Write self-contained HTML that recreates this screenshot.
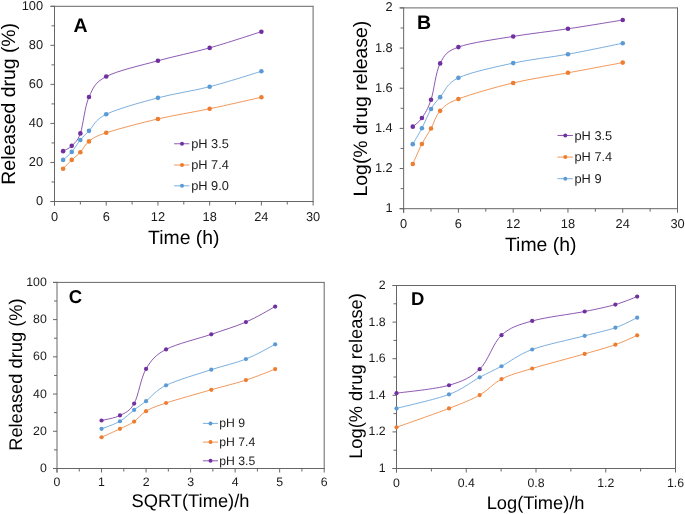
<!DOCTYPE html>
<html><head><meta charset="utf-8"><style>
html,body{margin:0;padding:0;background:#fff;}
body{width:685px;height:514px;overflow:hidden;}
svg{display:block;font-family:"Liberation Sans", sans-serif;will-change:transform;text-rendering:geometricPrecision;}
</style></head><body>
<svg width="685" height="514" viewBox="0 0 685 514">
<rect width="685" height="514" fill="#fff"/>
<line x1="50.50" y1="6.30" x2="313.60" y2="6.30" stroke="#666666" stroke-width="1"/>
<line x1="313.10" y1="6.30" x2="313.10" y2="201.50" stroke="#666666" stroke-width="1"/>
<line x1="50.50" y1="201.50" x2="313.60" y2="201.50" stroke="#666666" stroke-width="1"/>
<line x1="54.50" y1="5.80" x2="54.50" y2="205.50" stroke="#666666" stroke-width="1"/>
<line x1="50.50" y1="201.50" x2="54.50" y2="201.50" stroke="#666666" stroke-width="1"/>
<text x="43.10" y="205.00" font-size="12.8" text-anchor="end" font-weight="normal" fill="#1a1a1a">0</text>
<line x1="50.50" y1="162.46" x2="54.50" y2="162.46" stroke="#666666" stroke-width="1"/>
<text x="43.10" y="165.96" font-size="12.8" text-anchor="end" font-weight="normal" fill="#1a1a1a">20</text>
<line x1="50.50" y1="123.42" x2="54.50" y2="123.42" stroke="#666666" stroke-width="1"/>
<text x="43.10" y="126.92" font-size="12.8" text-anchor="end" font-weight="normal" fill="#1a1a1a">40</text>
<line x1="50.50" y1="84.38" x2="54.50" y2="84.38" stroke="#666666" stroke-width="1"/>
<text x="43.10" y="87.88" font-size="12.8" text-anchor="end" font-weight="normal" fill="#1a1a1a">60</text>
<line x1="50.50" y1="45.34" x2="54.50" y2="45.34" stroke="#666666" stroke-width="1"/>
<text x="43.10" y="48.84" font-size="12.8" text-anchor="end" font-weight="normal" fill="#1a1a1a">80</text>
<line x1="50.50" y1="6.30" x2="54.50" y2="6.30" stroke="#666666" stroke-width="1"/>
<text x="43.10" y="9.80" font-size="12.8" text-anchor="end" font-weight="normal" fill="#1a1a1a">100</text>
<line x1="51.50" y1="181.98" x2="54.50" y2="181.98" stroke="#666666" stroke-width="1"/>
<line x1="51.50" y1="142.94" x2="54.50" y2="142.94" stroke="#666666" stroke-width="1"/>
<line x1="51.50" y1="103.90" x2="54.50" y2="103.90" stroke="#666666" stroke-width="1"/>
<line x1="51.50" y1="64.86" x2="54.50" y2="64.86" stroke="#666666" stroke-width="1"/>
<line x1="51.50" y1="25.82" x2="54.50" y2="25.82" stroke="#666666" stroke-width="1"/>
<line x1="54.50" y1="201.50" x2="54.50" y2="205.50" stroke="#666666" stroke-width="1"/>
<text x="54.50" y="220.50" font-size="12.8" text-anchor="middle" font-weight="normal" fill="#1a1a1a">0</text>
<line x1="106.22" y1="201.50" x2="106.22" y2="205.50" stroke="#666666" stroke-width="1"/>
<text x="106.22" y="220.50" font-size="12.8" text-anchor="middle" font-weight="normal" fill="#1a1a1a">6</text>
<line x1="157.94" y1="201.50" x2="157.94" y2="205.50" stroke="#666666" stroke-width="1"/>
<text x="157.94" y="220.50" font-size="12.8" text-anchor="middle" font-weight="normal" fill="#1a1a1a">12</text>
<line x1="209.66" y1="201.50" x2="209.66" y2="205.50" stroke="#666666" stroke-width="1"/>
<text x="209.66" y="220.50" font-size="12.8" text-anchor="middle" font-weight="normal" fill="#1a1a1a">18</text>
<line x1="261.38" y1="201.50" x2="261.38" y2="205.50" stroke="#666666" stroke-width="1"/>
<text x="261.38" y="220.50" font-size="12.8" text-anchor="middle" font-weight="normal" fill="#1a1a1a">24</text>
<line x1="313.10" y1="201.50" x2="313.10" y2="205.50" stroke="#666666" stroke-width="1"/>
<text x="313.10" y="220.50" font-size="12.8" text-anchor="middle" font-weight="normal" fill="#1a1a1a">30</text>
<line x1="80.36" y1="201.50" x2="80.36" y2="204.50" stroke="#666666" stroke-width="1"/>
<line x1="132.08" y1="201.50" x2="132.08" y2="204.50" stroke="#666666" stroke-width="1"/>
<line x1="183.80" y1="201.50" x2="183.80" y2="204.50" stroke="#666666" stroke-width="1"/>
<line x1="235.52" y1="201.50" x2="235.52" y2="204.50" stroke="#666666" stroke-width="1"/>
<line x1="287.24" y1="201.50" x2="287.24" y2="204.50" stroke="#666666" stroke-width="1"/>
<text x="183.80" y="243.60" font-size="19.4" text-anchor="middle" font-weight="normal" fill="#000">Time (h)</text>
<text x="14.60" y="103.80" font-size="19.4" text-anchor="middle" font-weight="normal" fill="#000" transform="rotate(-90 14.60 103.80)">Released drug (%)</text>
<text x="73.40" y="32.30" font-size="19.5" text-anchor="start" font-weight="bold" fill="#000">A</text>
<path d="M63.12,151.14 C64.56,150.26 68.87,148.83 71.74,145.87 C74.61,142.91 77.49,141.51 80.36,133.38 C83.23,125.24 84.67,106.54 88.98,97.07 C93.29,87.60 94.73,82.62 106.22,76.57 C117.71,70.52 140.70,65.54 157.94,60.76 C175.18,55.98 192.42,52.73 209.66,47.88 C226.90,43.03 252.76,34.38 261.38,31.68" fill="none" stroke="#7030a0" stroke-width="0.8"/>
<circle cx="63.12" cy="151.14" r="2.3" fill="#7030a0"/>
<circle cx="71.74" cy="145.87" r="2.3" fill="#7030a0"/>
<circle cx="80.36" cy="133.38" r="2.3" fill="#7030a0"/>
<circle cx="88.98" cy="97.07" r="2.3" fill="#7030a0"/>
<circle cx="106.22" cy="76.57" r="2.3" fill="#7030a0"/>
<circle cx="157.94" cy="60.76" r="2.3" fill="#7030a0"/>
<circle cx="209.66" cy="47.88" r="2.3" fill="#7030a0"/>
<circle cx="261.38" cy="31.68" r="2.3" fill="#7030a0"/>
<path d="M63.12,168.71 C64.56,167.24 68.87,162.66 71.74,159.92 C74.61,157.19 77.49,155.40 80.36,152.31 C83.23,149.22 84.67,144.63 88.98,141.38 C93.29,138.13 94.73,136.53 106.22,132.79 C117.71,129.05 140.70,122.93 157.94,118.93 C175.18,114.93 192.42,112.39 209.66,108.78 C226.90,105.17 252.76,99.18 261.38,97.26" fill="none" stroke="#ed7d31" stroke-width="0.8"/>
<circle cx="63.12" cy="168.71" r="2.3" fill="#ed7d31"/>
<circle cx="71.74" cy="159.92" r="2.3" fill="#ed7d31"/>
<circle cx="80.36" cy="152.31" r="2.3" fill="#ed7d31"/>
<circle cx="88.98" cy="141.38" r="2.3" fill="#ed7d31"/>
<circle cx="106.22" cy="132.79" r="2.3" fill="#ed7d31"/>
<circle cx="157.94" cy="118.93" r="2.3" fill="#ed7d31"/>
<circle cx="209.66" cy="108.78" r="2.3" fill="#ed7d31"/>
<circle cx="261.38" cy="97.26" r="2.3" fill="#ed7d31"/>
<path d="M63.12,159.92 C64.56,158.59 68.87,155.24 71.74,151.92 C74.61,148.60 77.49,143.53 80.36,140.01 C83.23,136.50 84.67,135.13 88.98,130.84 C93.29,126.54 94.73,119.74 106.22,114.25 C117.71,108.75 140.70,102.44 157.94,97.85 C175.18,93.26 192.42,91.15 209.66,86.72 C226.90,82.30 252.76,73.87 261.38,71.30" fill="none" stroke="#5b9bd5" stroke-width="0.8"/>
<circle cx="63.12" cy="159.92" r="2.3" fill="#5b9bd5"/>
<circle cx="71.74" cy="151.92" r="2.3" fill="#5b9bd5"/>
<circle cx="80.36" cy="140.01" r="2.3" fill="#5b9bd5"/>
<circle cx="88.98" cy="130.84" r="2.3" fill="#5b9bd5"/>
<circle cx="106.22" cy="114.25" r="2.3" fill="#5b9bd5"/>
<circle cx="157.94" cy="97.85" r="2.3" fill="#5b9bd5"/>
<circle cx="209.66" cy="86.72" r="2.3" fill="#5b9bd5"/>
<circle cx="261.38" cy="71.30" r="2.3" fill="#5b9bd5"/>
<line x1="174.10" y1="143.75" x2="189.30" y2="143.75" stroke="#7030a0" stroke-width="0.8"/>
<circle cx="182.00" cy="143.75" r="2.0" fill="#7030a0"/>
<text x="191.20" y="147.75" font-size="12.8" text-anchor="start" font-weight="normal" fill="#1a1a1a">pH 3.5</text>
<line x1="174.10" y1="165.00" x2="189.30" y2="165.00" stroke="#ed7d31" stroke-width="0.8"/>
<circle cx="182.00" cy="165.00" r="2.0" fill="#ed7d31"/>
<text x="191.20" y="169.00" font-size="12.8" text-anchor="start" font-weight="normal" fill="#1a1a1a">pH 7.4</text>
<line x1="174.10" y1="185.80" x2="189.30" y2="185.80" stroke="#5b9bd5" stroke-width="0.8"/>
<circle cx="182.00" cy="185.80" r="2.0" fill="#5b9bd5"/>
<text x="191.20" y="189.80" font-size="12.8" text-anchor="start" font-weight="normal" fill="#1a1a1a">pH 9.0</text>
<line x1="399.65" y1="7.90" x2="678.00" y2="7.90" stroke="#666666" stroke-width="1"/>
<line x1="677.50" y1="7.90" x2="677.50" y2="208.70" stroke="#666666" stroke-width="1"/>
<line x1="399.65" y1="208.70" x2="678.00" y2="208.70" stroke="#666666" stroke-width="1"/>
<line x1="403.65" y1="7.40" x2="403.65" y2="212.70" stroke="#666666" stroke-width="1"/>
<line x1="399.65" y1="208.70" x2="403.65" y2="208.70" stroke="#666666" stroke-width="1"/>
<text x="392.70" y="212.20" font-size="12.8" text-anchor="end" font-weight="normal" fill="#1a1a1a">1</text>
<line x1="399.65" y1="168.54" x2="403.65" y2="168.54" stroke="#666666" stroke-width="1"/>
<text x="392.70" y="172.04" font-size="12.8" text-anchor="end" font-weight="normal" fill="#1a1a1a">1.2</text>
<line x1="399.65" y1="128.38" x2="403.65" y2="128.38" stroke="#666666" stroke-width="1"/>
<text x="392.70" y="131.88" font-size="12.8" text-anchor="end" font-weight="normal" fill="#1a1a1a">1.4</text>
<line x1="399.65" y1="88.22" x2="403.65" y2="88.22" stroke="#666666" stroke-width="1"/>
<text x="392.70" y="91.72" font-size="12.8" text-anchor="end" font-weight="normal" fill="#1a1a1a">1.6</text>
<line x1="399.65" y1="48.06" x2="403.65" y2="48.06" stroke="#666666" stroke-width="1"/>
<text x="392.70" y="51.56" font-size="12.8" text-anchor="end" font-weight="normal" fill="#1a1a1a">1.8</text>
<line x1="399.65" y1="7.90" x2="403.65" y2="7.90" stroke="#666666" stroke-width="1"/>
<text x="392.70" y="11.40" font-size="12.8" text-anchor="end" font-weight="normal" fill="#1a1a1a">2</text>
<line x1="400.65" y1="188.62" x2="403.65" y2="188.62" stroke="#666666" stroke-width="1"/>
<line x1="400.65" y1="148.46" x2="403.65" y2="148.46" stroke="#666666" stroke-width="1"/>
<line x1="400.65" y1="108.30" x2="403.65" y2="108.30" stroke="#666666" stroke-width="1"/>
<line x1="400.65" y1="68.14" x2="403.65" y2="68.14" stroke="#666666" stroke-width="1"/>
<line x1="400.65" y1="27.98" x2="403.65" y2="27.98" stroke="#666666" stroke-width="1"/>
<line x1="403.65" y1="208.70" x2="403.65" y2="212.70" stroke="#666666" stroke-width="1"/>
<text x="403.65" y="228.10" font-size="12.8" text-anchor="middle" font-weight="normal" fill="#1a1a1a">0</text>
<line x1="458.42" y1="208.70" x2="458.42" y2="212.70" stroke="#666666" stroke-width="1"/>
<text x="458.42" y="228.10" font-size="12.8" text-anchor="middle" font-weight="normal" fill="#1a1a1a">6</text>
<line x1="513.19" y1="208.70" x2="513.19" y2="212.70" stroke="#666666" stroke-width="1"/>
<text x="513.19" y="228.10" font-size="12.8" text-anchor="middle" font-weight="normal" fill="#1a1a1a">12</text>
<line x1="567.96" y1="208.70" x2="567.96" y2="212.70" stroke="#666666" stroke-width="1"/>
<text x="567.96" y="228.10" font-size="12.8" text-anchor="middle" font-weight="normal" fill="#1a1a1a">18</text>
<line x1="622.73" y1="208.70" x2="622.73" y2="212.70" stroke="#666666" stroke-width="1"/>
<text x="622.73" y="228.10" font-size="12.8" text-anchor="middle" font-weight="normal" fill="#1a1a1a">24</text>
<line x1="677.50" y1="208.70" x2="677.50" y2="212.70" stroke="#666666" stroke-width="1"/>
<text x="677.50" y="228.10" font-size="12.8" text-anchor="middle" font-weight="normal" fill="#1a1a1a">30</text>
<line x1="431.03" y1="208.70" x2="431.03" y2="211.70" stroke="#666666" stroke-width="1"/>
<line x1="485.80" y1="208.70" x2="485.80" y2="211.70" stroke="#666666" stroke-width="1"/>
<line x1="540.58" y1="208.70" x2="540.58" y2="211.70" stroke="#666666" stroke-width="1"/>
<line x1="595.35" y1="208.70" x2="595.35" y2="211.70" stroke="#666666" stroke-width="1"/>
<line x1="650.12" y1="208.70" x2="650.12" y2="211.70" stroke="#666666" stroke-width="1"/>
<text x="540.70" y="251.30" font-size="19.4" text-anchor="middle" font-weight="normal" fill="#000">Time (h)</text>
<text x="367.30" y="108.60" font-size="19.4" text-anchor="middle" font-weight="normal" fill="#000" transform="rotate(-90 367.30 108.60)">Log(% drug release)</text>
<text x="417.00" y="29.40" font-size="19.5" text-anchor="start" font-weight="bold" fill="#000">B</text>
<path d="M412.78,126.65 C414.30,125.22 418.86,122.55 421.91,118.07 C424.95,113.58 427.99,108.86 431.03,99.75 C434.08,90.64 435.60,72.17 440.16,63.40 C444.73,54.62 446.25,51.58 458.42,47.09 C470.59,42.59 494.93,39.48 513.19,36.43 C531.45,33.38 549.70,31.52 567.96,28.79 C586.22,26.06 613.60,21.50 622.73,20.04" fill="none" stroke="#7030a0" stroke-width="0.8"/>
<circle cx="412.78" cy="126.65" r="2.3" fill="#7030a0"/>
<circle cx="421.91" cy="118.07" r="2.3" fill="#7030a0"/>
<circle cx="431.03" cy="99.75" r="2.3" fill="#7030a0"/>
<circle cx="440.16" cy="63.40" r="2.3" fill="#7030a0"/>
<circle cx="458.42" cy="47.09" r="2.3" fill="#7030a0"/>
<circle cx="513.19" cy="36.43" r="2.3" fill="#7030a0"/>
<circle cx="567.96" cy="28.79" r="2.3" fill="#7030a0"/>
<circle cx="622.73" cy="20.04" r="2.3" fill="#7030a0"/>
<path d="M412.78,164.06 C414.30,160.71 418.86,149.89 421.91,143.96 C424.95,138.03 427.99,134.00 431.03,128.48 C434.08,122.96 435.60,115.77 440.16,110.85 C444.73,105.93 446.25,103.61 458.42,98.95 C470.59,94.30 494.93,87.29 513.19,82.93 C531.45,78.58 549.70,76.21 567.96,72.82 C586.22,69.43 613.60,64.31 622.73,62.61" fill="none" stroke="#ed7d31" stroke-width="0.8"/>
<circle cx="412.78" cy="164.06" r="2.3" fill="#ed7d31"/>
<circle cx="421.91" cy="143.96" r="2.3" fill="#ed7d31"/>
<circle cx="431.03" cy="128.48" r="2.3" fill="#ed7d31"/>
<circle cx="440.16" cy="110.85" r="2.3" fill="#ed7d31"/>
<circle cx="458.42" cy="98.95" r="2.3" fill="#ed7d31"/>
<circle cx="513.19" cy="82.93" r="2.3" fill="#ed7d31"/>
<circle cx="567.96" cy="72.82" r="2.3" fill="#ed7d31"/>
<circle cx="622.73" cy="62.61" r="2.3" fill="#ed7d31"/>
<path d="M412.78,144.16 C414.30,141.50 418.86,134.06 421.91,128.21 C424.95,122.36 427.99,114.21 431.03,109.04 C434.08,103.86 435.60,102.36 440.16,97.16 C444.73,91.96 446.25,83.52 458.42,77.85 C470.59,72.17 494.93,67.04 513.19,63.10 C531.45,59.16 549.70,57.52 567.96,54.21 C586.22,50.89 613.60,45.05 622.73,43.22" fill="none" stroke="#5b9bd5" stroke-width="0.8"/>
<circle cx="412.78" cy="144.16" r="2.3" fill="#5b9bd5"/>
<circle cx="421.91" cy="128.21" r="2.3" fill="#5b9bd5"/>
<circle cx="431.03" cy="109.04" r="2.3" fill="#5b9bd5"/>
<circle cx="440.16" cy="97.16" r="2.3" fill="#5b9bd5"/>
<circle cx="458.42" cy="77.85" r="2.3" fill="#5b9bd5"/>
<circle cx="513.19" cy="63.10" r="2.3" fill="#5b9bd5"/>
<circle cx="567.96" cy="54.21" r="2.3" fill="#5b9bd5"/>
<circle cx="622.73" cy="43.22" r="2.3" fill="#5b9bd5"/>
<line x1="557.50" y1="135.50" x2="572.90" y2="135.50" stroke="#7030a0" stroke-width="0.8"/>
<circle cx="565.30" cy="135.50" r="2.0" fill="#7030a0"/>
<text x="574.50" y="139.50" font-size="12.8" text-anchor="start" font-weight="normal" fill="#1a1a1a">pH 3.5</text>
<line x1="557.50" y1="157.10" x2="572.90" y2="157.10" stroke="#ed7d31" stroke-width="0.8"/>
<circle cx="565.30" cy="157.10" r="2.0" fill="#ed7d31"/>
<text x="574.50" y="161.10" font-size="12.8" text-anchor="start" font-weight="normal" fill="#1a1a1a">pH 7.4</text>
<line x1="557.50" y1="178.70" x2="572.90" y2="178.70" stroke="#5b9bd5" stroke-width="0.8"/>
<circle cx="565.30" cy="178.70" r="2.0" fill="#5b9bd5"/>
<text x="574.50" y="182.70" font-size="12.8" text-anchor="start" font-weight="normal" fill="#1a1a1a">pH 9</text>
<line x1="53.00" y1="282.40" x2="324.70" y2="282.40" stroke="#666666" stroke-width="1"/>
<line x1="324.20" y1="282.40" x2="324.20" y2="468.50" stroke="#666666" stroke-width="1"/>
<line x1="53.00" y1="468.50" x2="324.70" y2="468.50" stroke="#666666" stroke-width="1"/>
<line x1="57.00" y1="281.90" x2="57.00" y2="472.50" stroke="#666666" stroke-width="1"/>
<line x1="53.00" y1="468.50" x2="57.00" y2="468.50" stroke="#666666" stroke-width="1"/>
<text x="46.80" y="471.95" font-size="12.3" text-anchor="end" font-weight="normal" fill="#1a1a1a">0</text>
<line x1="53.00" y1="431.28" x2="57.00" y2="431.28" stroke="#666666" stroke-width="1"/>
<text x="46.80" y="434.73" font-size="12.3" text-anchor="end" font-weight="normal" fill="#1a1a1a">20</text>
<line x1="53.00" y1="394.06" x2="57.00" y2="394.06" stroke="#666666" stroke-width="1"/>
<text x="46.80" y="397.51" font-size="12.3" text-anchor="end" font-weight="normal" fill="#1a1a1a">40</text>
<line x1="53.00" y1="356.84" x2="57.00" y2="356.84" stroke="#666666" stroke-width="1"/>
<text x="46.80" y="360.29" font-size="12.3" text-anchor="end" font-weight="normal" fill="#1a1a1a">60</text>
<line x1="53.00" y1="319.62" x2="57.00" y2="319.62" stroke="#666666" stroke-width="1"/>
<text x="46.80" y="323.07" font-size="12.3" text-anchor="end" font-weight="normal" fill="#1a1a1a">80</text>
<line x1="53.00" y1="282.40" x2="57.00" y2="282.40" stroke="#666666" stroke-width="1"/>
<text x="46.80" y="285.85" font-size="12.3" text-anchor="end" font-weight="normal" fill="#1a1a1a">100</text>
<line x1="54.00" y1="449.89" x2="57.00" y2="449.89" stroke="#666666" stroke-width="1"/>
<line x1="54.00" y1="412.67" x2="57.00" y2="412.67" stroke="#666666" stroke-width="1"/>
<line x1="54.00" y1="375.45" x2="57.00" y2="375.45" stroke="#666666" stroke-width="1"/>
<line x1="54.00" y1="338.23" x2="57.00" y2="338.23" stroke="#666666" stroke-width="1"/>
<line x1="54.00" y1="301.01" x2="57.00" y2="301.01" stroke="#666666" stroke-width="1"/>
<line x1="57.00" y1="468.50" x2="57.00" y2="472.50" stroke="#666666" stroke-width="1"/>
<text x="57.00" y="485.90" font-size="12.3" text-anchor="middle" font-weight="normal" fill="#1a1a1a">0</text>
<line x1="101.53" y1="468.50" x2="101.53" y2="472.50" stroke="#666666" stroke-width="1"/>
<text x="101.53" y="485.90" font-size="12.3" text-anchor="middle" font-weight="normal" fill="#1a1a1a">1</text>
<line x1="146.07" y1="468.50" x2="146.07" y2="472.50" stroke="#666666" stroke-width="1"/>
<text x="146.07" y="485.90" font-size="12.3" text-anchor="middle" font-weight="normal" fill="#1a1a1a">2</text>
<line x1="190.60" y1="468.50" x2="190.60" y2="472.50" stroke="#666666" stroke-width="1"/>
<text x="190.60" y="485.90" font-size="12.3" text-anchor="middle" font-weight="normal" fill="#1a1a1a">3</text>
<line x1="235.13" y1="468.50" x2="235.13" y2="472.50" stroke="#666666" stroke-width="1"/>
<text x="235.13" y="485.90" font-size="12.3" text-anchor="middle" font-weight="normal" fill="#1a1a1a">4</text>
<line x1="279.67" y1="468.50" x2="279.67" y2="472.50" stroke="#666666" stroke-width="1"/>
<text x="279.67" y="485.90" font-size="12.3" text-anchor="middle" font-weight="normal" fill="#1a1a1a">5</text>
<line x1="324.20" y1="468.50" x2="324.20" y2="472.50" stroke="#666666" stroke-width="1"/>
<text x="324.20" y="485.90" font-size="12.3" text-anchor="middle" font-weight="normal" fill="#1a1a1a">6</text>
<line x1="79.27" y1="468.50" x2="79.27" y2="471.50" stroke="#666666" stroke-width="1"/>
<line x1="123.80" y1="468.50" x2="123.80" y2="471.50" stroke="#666666" stroke-width="1"/>
<line x1="168.33" y1="468.50" x2="168.33" y2="471.50" stroke="#666666" stroke-width="1"/>
<line x1="212.87" y1="468.50" x2="212.87" y2="471.50" stroke="#666666" stroke-width="1"/>
<line x1="257.40" y1="468.50" x2="257.40" y2="471.50" stroke="#666666" stroke-width="1"/>
<line x1="301.93" y1="468.50" x2="301.93" y2="471.50" stroke="#666666" stroke-width="1"/>
<text x="190.50" y="507.30" font-size="18.3" text-anchor="middle" font-weight="normal" fill="#000">SQRT(Time)/h</text>
<text x="21.60" y="374.60" font-size="18.3" text-anchor="middle" font-weight="normal" fill="#000" transform="rotate(-90 21.60 374.60)">Released drug (%)</text>
<text x="68.70" y="303.40" font-size="18.5" text-anchor="start" font-weight="bold" fill="#000">C</text>
<path d="M101.53,420.49 C104.61,419.65 114.55,418.28 119.98,415.46 C125.41,412.64 129.79,411.31 134.13,403.55 C138.48,395.80 140.74,377.96 146.07,368.94 C151.39,359.91 155.22,355.17 166.08,349.40 C176.95,343.63 197.96,338.88 211.27,334.32 C224.58,329.76 235.29,326.66 245.94,322.04 C256.59,317.42 270.30,309.17 275.17,306.59" fill="none" stroke="#7030a0" stroke-width="0.8"/>
<circle cx="101.53" cy="420.49" r="2.1" fill="#7030a0"/>
<circle cx="119.98" cy="415.46" r="2.1" fill="#7030a0"/>
<circle cx="134.13" cy="403.55" r="2.1" fill="#7030a0"/>
<circle cx="146.07" cy="368.94" r="2.1" fill="#7030a0"/>
<circle cx="166.08" cy="349.40" r="2.1" fill="#7030a0"/>
<circle cx="211.27" cy="334.32" r="2.1" fill="#7030a0"/>
<circle cx="245.94" cy="322.04" r="2.1" fill="#7030a0"/>
<circle cx="275.17" cy="306.59" r="2.1" fill="#7030a0"/>
<path d="M101.53,437.24 C104.61,435.84 114.55,431.47 119.98,428.86 C125.41,426.26 129.79,424.55 134.13,421.60 C138.48,418.66 140.74,414.28 146.07,411.18 C151.39,408.08 155.22,406.56 166.08,402.99 C176.95,399.43 197.96,393.59 211.27,389.78 C224.58,385.96 235.29,383.55 245.94,380.10 C256.59,376.66 270.30,370.95 275.17,369.12" fill="none" stroke="#ed7d31" stroke-width="0.8"/>
<circle cx="101.53" cy="437.24" r="2.1" fill="#ed7d31"/>
<circle cx="119.98" cy="428.86" r="2.1" fill="#ed7d31"/>
<circle cx="134.13" cy="421.60" r="2.1" fill="#ed7d31"/>
<circle cx="146.07" cy="411.18" r="2.1" fill="#ed7d31"/>
<circle cx="166.08" cy="402.99" r="2.1" fill="#ed7d31"/>
<circle cx="211.27" cy="389.78" r="2.1" fill="#ed7d31"/>
<circle cx="245.94" cy="380.10" r="2.1" fill="#ed7d31"/>
<circle cx="275.17" cy="369.12" r="2.1" fill="#ed7d31"/>
<path d="M101.53,428.86 C104.61,427.59 114.55,424.39 119.98,421.23 C125.41,418.07 129.79,413.23 134.13,409.88 C138.48,406.53 140.74,405.23 146.07,401.13 C151.39,397.04 155.22,390.56 166.08,385.31 C176.95,380.07 197.96,374.05 211.27,369.68 C224.58,365.31 235.29,363.29 245.94,359.07 C256.59,354.85 270.30,346.82 275.17,344.37" fill="none" stroke="#5b9bd5" stroke-width="0.8"/>
<circle cx="101.53" cy="428.86" r="2.1" fill="#5b9bd5"/>
<circle cx="119.98" cy="421.23" r="2.1" fill="#5b9bd5"/>
<circle cx="134.13" cy="409.88" r="2.1" fill="#5b9bd5"/>
<circle cx="146.07" cy="401.13" r="2.1" fill="#5b9bd5"/>
<circle cx="166.08" cy="385.31" r="2.1" fill="#5b9bd5"/>
<circle cx="211.27" cy="369.68" r="2.1" fill="#5b9bd5"/>
<circle cx="245.94" cy="359.07" r="2.1" fill="#5b9bd5"/>
<circle cx="275.17" cy="344.37" r="2.1" fill="#5b9bd5"/>
<line x1="202.90" y1="423.40" x2="218.00" y2="423.40" stroke="#5b9bd5" stroke-width="0.8"/>
<circle cx="210.50" cy="423.40" r="2.0" fill="#5b9bd5"/>
<text x="219.30" y="427.40" font-size="12.2" text-anchor="start" font-weight="normal" fill="#1a1a1a">pH 9</text>
<line x1="202.90" y1="442.10" x2="218.00" y2="442.10" stroke="#ed7d31" stroke-width="0.8"/>
<circle cx="210.50" cy="442.10" r="2.0" fill="#ed7d31"/>
<text x="219.30" y="446.10" font-size="12.2" text-anchor="start" font-weight="normal" fill="#1a1a1a">pH 7.4</text>
<line x1="202.90" y1="460.80" x2="218.00" y2="460.80" stroke="#7030a0" stroke-width="0.8"/>
<circle cx="210.50" cy="460.80" r="2.0" fill="#7030a0"/>
<text x="219.30" y="464.80" font-size="12.2" text-anchor="start" font-weight="normal" fill="#1a1a1a">pH 3.5</text>
<line x1="392.50" y1="285.50" x2="676.00" y2="285.50" stroke="#666666" stroke-width="1"/>
<line x1="675.50" y1="285.50" x2="675.50" y2="468.50" stroke="#666666" stroke-width="1"/>
<line x1="392.50" y1="468.50" x2="676.00" y2="468.50" stroke="#666666" stroke-width="1"/>
<line x1="396.50" y1="285.00" x2="396.50" y2="472.50" stroke="#666666" stroke-width="1"/>
<line x1="392.50" y1="468.50" x2="396.50" y2="468.50" stroke="#666666" stroke-width="1"/>
<text x="385.70" y="471.90" font-size="12.3" text-anchor="end" font-weight="normal" fill="#1a1a1a">1</text>
<line x1="392.50" y1="431.90" x2="396.50" y2="431.90" stroke="#666666" stroke-width="1"/>
<text x="385.70" y="435.30" font-size="12.3" text-anchor="end" font-weight="normal" fill="#1a1a1a">1.2</text>
<line x1="392.50" y1="395.30" x2="396.50" y2="395.30" stroke="#666666" stroke-width="1"/>
<text x="385.70" y="398.70" font-size="12.3" text-anchor="end" font-weight="normal" fill="#1a1a1a">1.4</text>
<line x1="392.50" y1="358.70" x2="396.50" y2="358.70" stroke="#666666" stroke-width="1"/>
<text x="385.70" y="362.10" font-size="12.3" text-anchor="end" font-weight="normal" fill="#1a1a1a">1.6</text>
<line x1="392.50" y1="322.10" x2="396.50" y2="322.10" stroke="#666666" stroke-width="1"/>
<text x="385.70" y="325.50" font-size="12.3" text-anchor="end" font-weight="normal" fill="#1a1a1a">1.8</text>
<line x1="392.50" y1="285.50" x2="396.50" y2="285.50" stroke="#666666" stroke-width="1"/>
<text x="385.70" y="288.90" font-size="12.3" text-anchor="end" font-weight="normal" fill="#1a1a1a">2</text>
<line x1="393.50" y1="450.20" x2="396.50" y2="450.20" stroke="#666666" stroke-width="1"/>
<line x1="393.50" y1="413.60" x2="396.50" y2="413.60" stroke="#666666" stroke-width="1"/>
<line x1="393.50" y1="377.00" x2="396.50" y2="377.00" stroke="#666666" stroke-width="1"/>
<line x1="393.50" y1="340.40" x2="396.50" y2="340.40" stroke="#666666" stroke-width="1"/>
<line x1="393.50" y1="303.80" x2="396.50" y2="303.80" stroke="#666666" stroke-width="1"/>
<line x1="396.50" y1="468.50" x2="396.50" y2="472.50" stroke="#666666" stroke-width="1"/>
<text x="396.50" y="486.80" font-size="12.3" text-anchor="middle" font-weight="normal" fill="#1a1a1a">0</text>
<line x1="466.25" y1="468.50" x2="466.25" y2="472.50" stroke="#666666" stroke-width="1"/>
<text x="466.25" y="486.80" font-size="12.3" text-anchor="middle" font-weight="normal" fill="#1a1a1a">0.4</text>
<line x1="536.00" y1="468.50" x2="536.00" y2="472.50" stroke="#666666" stroke-width="1"/>
<text x="536.00" y="486.80" font-size="12.3" text-anchor="middle" font-weight="normal" fill="#1a1a1a">0.8</text>
<line x1="605.75" y1="468.50" x2="605.75" y2="472.50" stroke="#666666" stroke-width="1"/>
<text x="605.75" y="486.80" font-size="12.3" text-anchor="middle" font-weight="normal" fill="#1a1a1a">1.2</text>
<line x1="675.50" y1="468.50" x2="675.50" y2="472.50" stroke="#666666" stroke-width="1"/>
<text x="675.50" y="486.80" font-size="12.3" text-anchor="middle" font-weight="normal" fill="#1a1a1a">1.6</text>
<line x1="431.38" y1="468.50" x2="431.38" y2="471.50" stroke="#666666" stroke-width="1"/>
<line x1="501.12" y1="468.50" x2="501.12" y2="471.50" stroke="#666666" stroke-width="1"/>
<line x1="570.88" y1="468.50" x2="570.88" y2="471.50" stroke="#666666" stroke-width="1"/>
<line x1="640.62" y1="468.50" x2="640.62" y2="471.50" stroke="#666666" stroke-width="1"/>
<text x="535.60" y="508.50" font-size="18.3" text-anchor="middle" font-weight="normal" fill="#000">Log(Time)/h</text>
<text x="361.70" y="376.00" font-size="18.3" text-anchor="middle" font-weight="normal" fill="#000" transform="rotate(-90 361.70 376.00)">Log(% drug release)</text>
<text x="410.90" y="305.00" font-size="18.5" text-anchor="start" font-weight="bold" fill="#000">D</text>
<path d="M396.50,393.17 C405.25,391.86 435.13,389.27 448.99,385.26 C462.86,381.26 470.95,377.50 479.70,369.16 C488.45,360.82 492.74,343.24 501.48,335.21 C510.23,327.18 518.32,324.92 532.19,320.97 C546.06,317.02 570.82,314.24 584.68,311.50 C598.55,308.76 606.64,307.02 615.39,304.54 C624.14,302.05 633.54,297.90 637.17,296.57" fill="none" stroke="#7030a0" stroke-width="0.8"/>
<circle cx="396.50" cy="393.17" r="2.1" fill="#7030a0"/>
<circle cx="448.99" cy="385.26" r="2.1" fill="#7030a0"/>
<circle cx="479.70" cy="369.16" r="2.1" fill="#7030a0"/>
<circle cx="501.48" cy="335.21" r="2.1" fill="#7030a0"/>
<circle cx="532.19" cy="320.97" r="2.1" fill="#7030a0"/>
<circle cx="584.68" cy="311.50" r="2.1" fill="#7030a0"/>
<circle cx="615.39" cy="304.54" r="2.1" fill="#7030a0"/>
<circle cx="637.17" cy="296.57" r="2.1" fill="#7030a0"/>
<path d="M396.50,427.27 C405.25,424.12 435.13,413.78 448.99,408.41 C462.86,403.04 470.95,399.93 479.70,395.04 C488.45,390.16 492.74,383.52 501.48,379.10 C510.23,374.67 518.32,372.69 532.19,368.48 C546.06,364.28 570.82,357.85 584.68,353.88 C598.55,349.91 606.64,347.75 615.39,344.67 C624.14,341.58 633.54,336.91 637.17,335.36" fill="none" stroke="#ed7d31" stroke-width="0.8"/>
<circle cx="396.50" cy="427.27" r="2.1" fill="#ed7d31"/>
<circle cx="448.99" cy="408.41" r="2.1" fill="#ed7d31"/>
<circle cx="479.70" cy="395.04" r="2.1" fill="#ed7d31"/>
<circle cx="501.48" cy="379.10" r="2.1" fill="#ed7d31"/>
<circle cx="532.19" cy="368.48" r="2.1" fill="#ed7d31"/>
<circle cx="584.68" cy="353.88" r="2.1" fill="#ed7d31"/>
<circle cx="615.39" cy="344.67" r="2.1" fill="#ed7d31"/>
<circle cx="637.17" cy="335.36" r="2.1" fill="#ed7d31"/>
<path d="M396.50,408.41 C405.25,406.07 435.13,399.60 448.99,394.42 C462.86,389.23 470.95,382.00 479.70,377.31 C488.45,372.62 492.74,370.89 501.48,366.26 C510.23,361.62 518.32,354.57 532.19,349.49 C546.06,344.42 570.82,339.44 584.68,335.81 C598.55,332.18 606.64,330.72 615.39,327.70 C624.14,324.68 633.54,319.35 637.17,317.68" fill="none" stroke="#5b9bd5" stroke-width="0.8"/>
<circle cx="396.50" cy="408.41" r="2.1" fill="#5b9bd5"/>
<circle cx="448.99" cy="394.42" r="2.1" fill="#5b9bd5"/>
<circle cx="479.70" cy="377.31" r="2.1" fill="#5b9bd5"/>
<circle cx="501.48" cy="366.26" r="2.1" fill="#5b9bd5"/>
<circle cx="532.19" cy="349.49" r="2.1" fill="#5b9bd5"/>
<circle cx="584.68" cy="335.81" r="2.1" fill="#5b9bd5"/>
<circle cx="615.39" cy="327.70" r="2.1" fill="#5b9bd5"/>
<circle cx="637.17" cy="317.68" r="2.1" fill="#5b9bd5"/>
</svg></body></html>
